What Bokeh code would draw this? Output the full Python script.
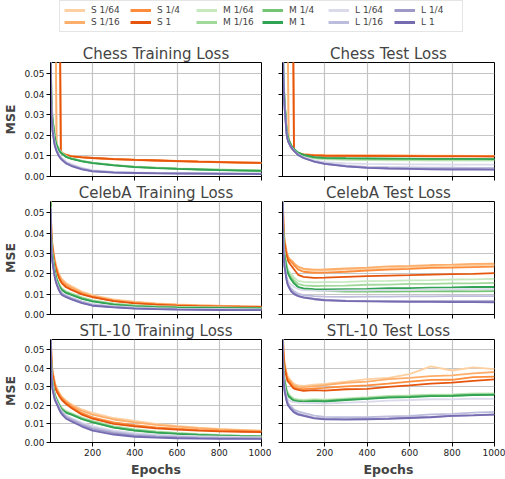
from bokeh.plotting import figure
from bokeh.layouts import column, row
from bokeh.models import Range1d, FixedTicker, CustomJSTickFormatter, Legend, LegendItem
from bokeh.embed import file_html
from bokeh.resources import INLINE

# ---------------- data ----------------
EPOCHS = [1, 5, 10, 20, 25, 30, 40, 45, 50, 55, 75, 100, 150, 200, 300, 400, 500, 600, 700, 800, 900, 1000]

SERIES = ["S 1/64", "S 1/16", "S 1/4", "S 1",
          "M 1/64", "M 1/16", "M 1/4", "M 1",
          "L 1/64", "L 1/16", "L 1/4", "L 1"]

COLORS = ["#fdd0a2", "#fdae6b", "#fd8d3c", "#e6550d",
          "#c7e9c0", "#a1d99b", "#74c476", "#31a354",
          "#dadaeb", "#bcbddc", "#9e9ac8", "#756bb1"]

Y_TICKS = [0.0, 0.01, 0.02, 0.03, 0.04, 0.05]
Y_TICK_LABELS = ["0.00", "0.01", "0.02", "0.03", "0.04", "0.05"]
X_TICKS = [200, 400, 600, 800, 1000]
X_TICK_LABELS = ["200", "400", "600", "800", "1000"]

CHESS_TRAIN = {
    "S 1/64": [0.09, 0.09, 0.09, 0.09, 0.085, 0.0145, 0.0138, 0.0133, 0.0125, 0.0118, 0.0106, 0.0099, 0.0094, 0.0090, 0.0085, 0.0081, 0.0078, 0.0075, 0.0072, 0.0070, 0.0068, 0.0066],
    "S 1/16": [0.09, 0.09, 0.09, 0.09, 0.08, 0.0140, 0.0135, 0.0130, 0.0123, 0.0117, 0.0105, 0.0098, 0.0093, 0.0089, 0.0084, 0.0080, 0.0077, 0.0074, 0.0071, 0.0069, 0.0067, 0.0065],
    "S 1/4": [0.09, 0.09, 0.09, 0.09, 0.09, 0.09, 0.09, 0.085, 0.0118, 0.0113, 0.0105, 0.0099, 0.0094, 0.0091, 0.0086, 0.0082, 0.0079, 0.0076, 0.0073, 0.0071, 0.0069, 0.0067],
    "S 1": [0.09, 0.09, 0.09, 0.09, 0.09, 0.09, 0.09, 0.08, 0.0115, 0.0111, 0.0104, 0.0098, 0.0093, 0.0090, 0.0085, 0.0081, 0.0078, 0.0075, 0.0072, 0.0070, 0.0068, 0.0066],
    "M 1/64": [0.075, 0.042, 0.030, 0.021, 0.018, 0.0162, 0.0136, 0.0127, 0.0121, 0.0116, 0.0099, 0.0089, 0.0077, 0.0068, 0.0057, 0.0049, 0.0044, 0.0040, 0.0037, 0.0034, 0.0032, 0.0030],
    "M 1/16": [0.072, 0.040, 0.029, 0.0205, 0.0175, 0.0158, 0.0133, 0.0124, 0.0118, 0.0113, 0.0097, 0.0087, 0.0075, 0.0066, 0.0055, 0.0047, 0.0042, 0.0038, 0.0035, 0.0033, 0.0031, 0.0029],
    "M 1/4": [0.070, 0.039, 0.028, 0.020, 0.017, 0.0155, 0.0130, 0.0122, 0.0117, 0.0112, 0.0096, 0.0087, 0.0075, 0.0066, 0.0055, 0.0047, 0.0042, 0.0038, 0.0035, 0.0032, 0.0030, 0.0028],
    "M 1": [0.070, 0.038, 0.028, 0.020, 0.017, 0.0153, 0.0129, 0.0121, 0.0116, 0.0111, 0.0095, 0.0086, 0.0074, 0.0065, 0.0054, 0.0046, 0.0041, 0.0037, 0.0034, 0.0031, 0.0029, 0.0027],
    "L 1/64": [0.068, 0.036, 0.025, 0.017, 0.015, 0.0135, 0.0110, 0.0102, 0.0095, 0.0090, 0.0072, 0.0060, 0.0042, 0.0031, 0.0023, 0.0020, 0.0018, 0.0017, 0.0016, 0.0016, 0.0015, 0.0015],
    "L 1/16": [0.066, 0.034, 0.024, 0.0165, 0.0145, 0.013, 0.0106, 0.0098, 0.0091, 0.0086, 0.0068, 0.0056, 0.0039, 0.0028, 0.0021, 0.0018, 0.0017, 0.0016, 0.0015, 0.0015, 0.0014, 0.0014],
    "L 1/4": [0.065, 0.033, 0.023, 0.016, 0.014, 0.0125, 0.0102, 0.0095, 0.0088, 0.0083, 0.0065, 0.0053, 0.0036, 0.0026, 0.0020, 0.0017, 0.0016, 0.0015, 0.0014, 0.0014, 0.0013, 0.0013],
    "L 1": [0.064, 0.032, 0.0225, 0.0155, 0.0137, 0.0122, 0.0100, 0.0093, 0.0086, 0.0081, 0.0063, 0.0051, 0.0035, 0.0025, 0.0019, 0.0017, 0.0015, 0.0014, 0.0014, 0.0013, 0.0013, 0.0012],
}

CHESS_TEST = {
    "S 1/64": [0.09, 0.09, 0.09, 0.09, 0.085, 0.018, 0.0145, 0.0138, 0.0132, 0.0126, 0.0115, 0.0109, 0.0105, 0.0104, 0.0103, 0.0102, 0.0102, 0.0101, 0.0101, 0.0101, 0.0100, 0.0100],
    "S 1/16": [0.09, 0.09, 0.09, 0.09, 0.08, 0.0175, 0.0142, 0.0135, 0.0130, 0.0124, 0.0113, 0.0108, 0.0104, 0.0103, 0.0102, 0.0102, 0.0101, 0.0101, 0.0100, 0.0100, 0.0100, 0.0099],
    "S 1/4": [0.09, 0.09, 0.09, 0.09, 0.09, 0.09, 0.09, 0.09, 0.09, 0.0128, 0.0114, 0.0108, 0.0104, 0.0103, 0.0102, 0.0101, 0.0101, 0.0100, 0.0100, 0.0100, 0.0099, 0.0099],
    "S 1": [0.09, 0.09, 0.09, 0.09, 0.09, 0.09, 0.09, 0.09, 0.09, 0.0125, 0.0112, 0.0106, 0.0102, 0.0101, 0.0100, 0.0100, 0.0099, 0.0099, 0.0098, 0.0098, 0.0098, 0.0097],
    "M 1/64": [0.080, 0.050, 0.038, 0.023, 0.020, 0.018, 0.0155, 0.0145, 0.0138, 0.0132, 0.0113, 0.0100, 0.0088, 0.0084, 0.0081, 0.0080, 0.0079, 0.0079, 0.0078, 0.0078, 0.0078, 0.0078],
    "M 1/16": [0.080, 0.050, 0.038, 0.023, 0.020, 0.018, 0.0155, 0.0145, 0.0138, 0.0132, 0.0114, 0.0102, 0.0090, 0.0087, 0.0084, 0.0083, 0.0083, 0.0082, 0.0082, 0.0082, 0.0082, 0.0082],
    "M 1/4": [0.080, 0.050, 0.038, 0.023, 0.020, 0.018, 0.0155, 0.0146, 0.0139, 0.0133, 0.0115, 0.0104, 0.0093, 0.0090, 0.0088, 0.0087, 0.0087, 0.0086, 0.0086, 0.0086, 0.0085, 0.0085],
    "M 1": [0.080, 0.050, 0.038, 0.023, 0.020, 0.018, 0.0156, 0.0147, 0.0140, 0.0134, 0.0116, 0.0105, 0.0094, 0.0091, 0.0089, 0.0088, 0.0087, 0.0087, 0.0086, 0.0086, 0.0086, 0.0085],
    "L 1/64": [0.080, 0.048, 0.035, 0.021, 0.018, 0.0165, 0.0145, 0.0140, 0.0133, 0.0127, 0.0108, 0.0094, 0.0078, 0.0070, 0.0064, 0.0061, 0.0060, 0.0059, 0.0059, 0.0058, 0.0058, 0.0058],
    "L 1/16": [0.080, 0.048, 0.035, 0.021, 0.018, 0.0165, 0.0145, 0.0139, 0.0132, 0.0126, 0.0106, 0.0092, 0.0075, 0.0064, 0.0053, 0.0047, 0.0045, 0.0044, 0.0043, 0.0043, 0.0042, 0.0042],
    "L 1/4": [0.080, 0.048, 0.035, 0.021, 0.018, 0.0165, 0.0144, 0.0138, 0.0131, 0.0125, 0.0105, 0.0091, 0.0073, 0.0062, 0.0050, 0.0043, 0.0040, 0.0038, 0.0037, 0.0036, 0.0036, 0.0035],
    "L 1": [0.080, 0.048, 0.035, 0.021, 0.018, 0.0165, 0.0144, 0.0138, 0.0131, 0.0125, 0.0104, 0.0090, 0.0072, 0.0061, 0.0049, 0.0042, 0.0039, 0.0037, 0.0035, 0.0034, 0.0034, 0.0033],
}

CELEBA_TRAIN = {
    "S 1/64": [0.060, 0.042, 0.035, 0.028, 0.0255, 0.0235, 0.0205, 0.0193, 0.0183, 0.0175, 0.0155, 0.0140, 0.0113, 0.0095, 0.0074, 0.0063, 0.0055, 0.0050, 0.0046, 0.0043, 0.0040, 0.0038],
    "S 1/16": [0.059, 0.041, 0.034, 0.0272, 0.0248, 0.0228, 0.0198, 0.0187, 0.0177, 0.0169, 0.0149, 0.0134, 0.0108, 0.0091, 0.0071, 0.0061, 0.0053, 0.0048, 0.0045, 0.0042, 0.0040, 0.0038],
    "S 1/4": [0.058, 0.040, 0.033, 0.026, 0.0238, 0.0218, 0.0188, 0.0177, 0.0167, 0.0159, 0.0140, 0.0125, 0.0101, 0.0086, 0.0067, 0.0056, 0.0049, 0.0045, 0.0042, 0.0040, 0.0038, 0.0037],
    "S 1": [0.058, 0.040, 0.033, 0.0255, 0.0232, 0.0212, 0.0182, 0.0171, 0.0161, 0.0153, 0.0134, 0.0121, 0.0099, 0.0085, 0.0066, 0.0055, 0.0048, 0.0044, 0.0041, 0.0039, 0.0038, 0.0037],
    "M 1/64": [0.056, 0.036, 0.030, 0.023, 0.0202, 0.0181, 0.0154, 0.0144, 0.0136, 0.0129, 0.0114, 0.0104, 0.0085, 0.0071, 0.0054, 0.0046, 0.0041, 0.0038, 0.0036, 0.0035, 0.0034, 0.0033],
    "M 1/16": [0.056, 0.036, 0.030, 0.0225, 0.0198, 0.0177, 0.0150, 0.0140, 0.0132, 0.0125, 0.0111, 0.0101, 0.0082, 0.0068, 0.0052, 0.0044, 0.0039, 0.0036, 0.0035, 0.0034, 0.0033, 0.0032],
    "M 1/4": [0.055, 0.035, 0.029, 0.0222, 0.0195, 0.0174, 0.0147, 0.0137, 0.0129, 0.0122, 0.0108, 0.0098, 0.0079, 0.0066, 0.0050, 0.0042, 0.0037, 0.0035, 0.0034, 0.0033, 0.0032, 0.0031],
    "M 1": [0.055, 0.035, 0.029, 0.022, 0.0193, 0.0172, 0.0145, 0.0135, 0.0127, 0.0120, 0.0106, 0.0096, 0.0077, 0.0064, 0.0048, 0.0040, 0.0036, 0.0034, 0.0033, 0.0032, 0.0031, 0.0030],
    "L 1/64": [0.053, 0.032, 0.027, 0.020, 0.0177, 0.0159, 0.0132, 0.0122, 0.0114, 0.0107, 0.0095, 0.0084, 0.0065, 0.0052, 0.0041, 0.0035, 0.0031, 0.0029, 0.0028, 0.0027, 0.0026, 0.0025],
    "L 1/16": [0.053, 0.032, 0.027, 0.0198, 0.0174, 0.0156, 0.0129, 0.0119, 0.0111, 0.0104, 0.0092, 0.0081, 0.0062, 0.0049, 0.0039, 0.0033, 0.0029, 0.0027, 0.0026, 0.0025, 0.0024, 0.0024],
    "L 1/4": [0.052, 0.031, 0.026, 0.0193, 0.0169, 0.0151, 0.0124, 0.0114, 0.0106, 0.0099, 0.0088, 0.0077, 0.0058, 0.0045, 0.0036, 0.0030, 0.0027, 0.0025, 0.0024, 0.0023, 0.0022, 0.0022],
    "L 1": [0.052, 0.031, 0.026, 0.019, 0.0166, 0.0148, 0.0121, 0.0111, 0.0103, 0.0096, 0.0085, 0.0074, 0.0056, 0.0043, 0.0035, 0.0029, 0.0026, 0.0024, 0.0023, 0.0022, 0.0021, 0.0021],
}

CELEBA_TEST = {
    "S 1/64": [0.070, 0.046, 0.037, 0.031, 0.029, 0.0278, 0.0265, 0.0260, 0.0255, 0.0248, 0.0230, 0.0220, 0.0215, 0.0217, 0.0220, 0.0226, 0.0228, 0.0232, 0.0235, 0.0238, 0.0242, 0.0245],
    "S 1/16": [0.070, 0.046, 0.037, 0.031, 0.029, 0.0280, 0.0268, 0.0264, 0.0260, 0.0252, 0.0235, 0.0225, 0.0220, 0.0221, 0.0226, 0.0230, 0.0236, 0.0239, 0.0243, 0.0245, 0.0249, 0.0250],
    "S 1/4": [0.068, 0.045, 0.036, 0.030, 0.0285, 0.0272, 0.0260, 0.0255, 0.0250, 0.0242, 0.0220, 0.0210, 0.0205, 0.0206, 0.0210, 0.0216, 0.0220, 0.0224, 0.0229, 0.0230, 0.0233, 0.0235],
    "S 1": [0.066, 0.044, 0.035, 0.029, 0.027, 0.0258, 0.0243, 0.0236, 0.0230, 0.0222, 0.0195, 0.0185, 0.0180, 0.0181, 0.0185, 0.0188, 0.0191, 0.0193, 0.0196, 0.0198, 0.0200, 0.0203],
    "M 1/64": [0.062, 0.040, 0.031, 0.025, 0.0228, 0.0215, 0.0200, 0.0195, 0.0190, 0.0182, 0.0165, 0.0160, 0.0158, 0.0159, 0.0160, 0.0164, 0.0165, 0.0168, 0.0169, 0.0172, 0.0173, 0.0175],
    "M 1/16": [0.062, 0.039, 0.030, 0.024, 0.0218, 0.0205, 0.0187, 0.0181, 0.0175, 0.0168, 0.0150, 0.0143, 0.0140, 0.0141, 0.0142, 0.0146, 0.0147, 0.0150, 0.0150, 0.0153, 0.0153, 0.0155],
    "M 1/4": [0.060, 0.038, 0.029, 0.023, 0.021, 0.0197, 0.0178, 0.0171, 0.0165, 0.0157, 0.0135, 0.0125, 0.0120, 0.0116, 0.0113, 0.0114, 0.0112, 0.0114, 0.0114, 0.0115, 0.0114, 0.0115],
    "M 1": [0.060, 0.038, 0.029, 0.023, 0.0208, 0.0195, 0.0174, 0.0167, 0.0160, 0.0153, 0.0135, 0.0128, 0.0125, 0.0123, 0.0125, 0.0126, 0.0129, 0.0130, 0.0132, 0.0133, 0.0135, 0.0135],
    "L 1/64": [0.058, 0.035, 0.026, 0.019, 0.017, 0.0160, 0.0148, 0.0144, 0.0140, 0.0135, 0.0125, 0.0120, 0.0117, 0.0116, 0.0118, 0.0118, 0.0121, 0.0121, 0.0123, 0.0123, 0.0125, 0.0125],
    "L 1/16": [0.056, 0.033, 0.025, 0.018, 0.0158, 0.0145, 0.0130, 0.0125, 0.0120, 0.0115, 0.0102, 0.0095, 0.0090, 0.0088, 0.0087, 0.0088, 0.0088, 0.0089, 0.0089, 0.0090, 0.0090, 0.0090],
    "L 1/4": [0.055, 0.032, 0.024, 0.0172, 0.015, 0.0138, 0.0120, 0.0115, 0.0110, 0.0105, 0.0092, 0.0085, 0.0078, 0.0072, 0.0068, 0.0067, 0.0065, 0.0066, 0.0065, 0.0066, 0.0065, 0.0065],
    "L 1": [0.055, 0.032, 0.024, 0.0170, 0.0148, 0.0135, 0.0116, 0.0110, 0.0105, 0.0100, 0.0090, 0.0083, 0.0075, 0.0070, 0.0066, 0.0064, 0.0063, 0.0062, 0.0062, 0.0061, 0.0061, 0.0060],
}

STL_TRAIN = {
    "S 1/64": [0.067, 0.047, 0.039, 0.033, 0.031, 0.0295, 0.0274, 0.0264, 0.0255, 0.0247, 0.0226, 0.0206, 0.0178, 0.0160, 0.0132, 0.0116, 0.0100, 0.0089, 0.0080, 0.0073, 0.0068, 0.0064],
    "S 1/16": [0.067, 0.047, 0.039, 0.033, 0.031, 0.0292, 0.0270, 0.0260, 0.0251, 0.0243, 0.0221, 0.0201, 0.0170, 0.0150, 0.0124, 0.0108, 0.0095, 0.0085, 0.0077, 0.0071, 0.0067, 0.0063],
    "S 1/4": [0.066, 0.046, 0.038, 0.032, 0.030, 0.0283, 0.0262, 0.0252, 0.0244, 0.0236, 0.0214, 0.0193, 0.0158, 0.0136, 0.0108, 0.0094, 0.0082, 0.0074, 0.0068, 0.0064, 0.0061, 0.0059],
    "S 1": [0.066, 0.045, 0.037, 0.031, 0.029, 0.0275, 0.0255, 0.0245, 0.0237, 0.0229, 0.0207, 0.0186, 0.0150, 0.0128, 0.0100, 0.0087, 0.0076, 0.0069, 0.0064, 0.0060, 0.0058, 0.0056],
    "M 1/64": [0.063, 0.041, 0.033, 0.027, 0.0252, 0.0240, 0.0215, 0.0205, 0.0195, 0.0187, 0.0169, 0.0158, 0.0134, 0.0117, 0.0088, 0.0072, 0.0060, 0.0052, 0.0046, 0.0041, 0.0037, 0.0035],
    "M 1/16": [0.063, 0.041, 0.033, 0.0265, 0.0248, 0.0236, 0.0211, 0.0201, 0.0191, 0.0183, 0.0166, 0.0155, 0.0131, 0.0114, 0.0085, 0.0069, 0.0058, 0.0050, 0.0044, 0.0040, 0.0036, 0.0034],
    "M 1/4": [0.062, 0.040, 0.032, 0.026, 0.0245, 0.0232, 0.0207, 0.0197, 0.0187, 0.0179, 0.0162, 0.0152, 0.0128, 0.0111, 0.0082, 0.0066, 0.0055, 0.0048, 0.0042, 0.0038, 0.0035, 0.0033],
    "M 1": [0.062, 0.040, 0.032, 0.026, 0.0243, 0.0230, 0.0205, 0.0195, 0.0185, 0.0177, 0.0160, 0.0150, 0.0126, 0.0109, 0.0080, 0.0064, 0.0053, 0.0046, 0.0041, 0.0037, 0.0034, 0.0032],
    "L 1/64": [0.060, 0.038, 0.031, 0.025, 0.0235, 0.0222, 0.0198, 0.0187, 0.0177, 0.0169, 0.0147, 0.0132, 0.0106, 0.0088, 0.0064, 0.0050, 0.0042, 0.0037, 0.0034, 0.0032, 0.0030, 0.0029],
    "L 1/16": [0.059, 0.037, 0.030, 0.0245, 0.023, 0.0218, 0.0194, 0.0182, 0.0172, 0.0164, 0.0141, 0.0126, 0.0100, 0.0080, 0.0057, 0.0044, 0.0036, 0.0031, 0.0028, 0.0026, 0.0025, 0.0024],
    "L 1/4": [0.058, 0.036, 0.029, 0.024, 0.0225, 0.0213, 0.0188, 0.0176, 0.0166, 0.0158, 0.0134, 0.0119, 0.0093, 0.0072, 0.0050, 0.0037, 0.0031, 0.0027, 0.0025, 0.0023, 0.0022, 0.0021],
    "L 1": [0.058, 0.036, 0.029, 0.0235, 0.022, 0.0208, 0.0182, 0.0170, 0.0160, 0.0152, 0.0128, 0.0113, 0.0086, 0.0064, 0.0043, 0.0031, 0.0026, 0.0023, 0.0021, 0.0020, 0.0019, 0.0019],
}

STL_TEST = {
    "S 1/64": [0.070, 0.050, 0.044, 0.038, 0.036, 0.0350, 0.0335, 0.0328, 0.0322, 0.0316, 0.0308, 0.0305, 0.0312, 0.0316, 0.0328, 0.0342, 0.0348, 0.0368, 0.0410, 0.0388, 0.0405, 0.0395],
    "S 1/16": [0.070, 0.050, 0.043, 0.037, 0.035, 0.0342, 0.0328, 0.0320, 0.0314, 0.0308, 0.0300, 0.0298, 0.0304, 0.0309, 0.0322, 0.0328, 0.0342, 0.0348, 0.0358, 0.0362, 0.0372, 0.0380],
    "S 1/4": [0.069, 0.049, 0.042, 0.036, 0.034, 0.0333, 0.0318, 0.0310, 0.0303, 0.0297, 0.0290, 0.0288, 0.0292, 0.0294, 0.0302, 0.0308, 0.0317, 0.0328, 0.0337, 0.0338, 0.0352, 0.0355],
    "S 1": [0.068, 0.048, 0.041, 0.035, 0.033, 0.0325, 0.0310, 0.0302, 0.0295, 0.0290, 0.0283, 0.0278, 0.0282, 0.0279, 0.0287, 0.0289, 0.0300, 0.0308, 0.0317, 0.0323, 0.0332, 0.0340],
    "M 1/64": [0.062, 0.041, 0.035, 0.029, 0.0272, 0.0262, 0.0250, 0.0245, 0.0241, 0.0237, 0.0232, 0.0230, 0.0233, 0.0231, 0.0238, 0.0244, 0.0251, 0.0254, 0.0258, 0.0259, 0.0264, 0.0265],
    "M 1/16": [0.062, 0.040, 0.034, 0.028, 0.0265, 0.0255, 0.0245, 0.0240, 0.0236, 0.0232, 0.0228, 0.0226, 0.0228, 0.0227, 0.0234, 0.0241, 0.0248, 0.0251, 0.0255, 0.0256, 0.0261, 0.0262],
    "M 1/4": [0.061, 0.040, 0.034, 0.028, 0.0262, 0.0252, 0.0242, 0.0236, 0.0232, 0.0228, 0.0224, 0.0222, 0.0225, 0.0224, 0.0231, 0.0237, 0.0244, 0.0247, 0.0251, 0.0252, 0.0257, 0.0258],
    "M 1": [0.061, 0.039, 0.033, 0.0275, 0.0258, 0.0248, 0.0238, 0.0233, 0.0229, 0.0226, 0.0222, 0.0219, 0.0223, 0.0221, 0.0229, 0.0235, 0.0242, 0.0245, 0.0250, 0.0251, 0.0256, 0.0257],
    "L 1/64": [0.060, 0.038, 0.031, 0.025, 0.0235, 0.0228, 0.0222, 0.0220, 0.0218, 0.0217, 0.0215, 0.0214, 0.0212, 0.0210, 0.0215, 0.0219, 0.0226, 0.0229, 0.0233, 0.0232, 0.0236, 0.0235],
    "L 1/16": [0.058, 0.036, 0.030, 0.024, 0.022, 0.0210, 0.0196, 0.0190, 0.0184, 0.0178, 0.0168, 0.0160, 0.0145, 0.0138, 0.0136, 0.0137, 0.0141, 0.0144, 0.0152, 0.0154, 0.0161, 0.0165],
    "L 1/4": [0.057, 0.035, 0.029, 0.023, 0.021, 0.0200, 0.0186, 0.0180, 0.0174, 0.0168, 0.0155, 0.0148, 0.0133, 0.0128, 0.0126, 0.0129, 0.0130, 0.0134, 0.0138, 0.0144, 0.0147, 0.0152],
    "L 1": [0.057, 0.035, 0.028, 0.0225, 0.0205, 0.0195, 0.0180, 0.0174, 0.0168, 0.0162, 0.0150, 0.0143, 0.0130, 0.0125, 0.0123, 0.0125, 0.0127, 0.0132, 0.0136, 0.0143, 0.0146, 0.0150],
}

PANELS = [
    ("Chess Training Loss", CHESS_TRAIN), ("Chess Test Loss", CHESS_TEST),
    ("CelebA Training Loss", CELEBA_TRAIN), ("CelebA Test Loss", CELEBA_TEST),
    ("STL-10 Training Loss", STL_TRAIN), ("STL-10 Test Loss", STL_TEST),
]

FONT = "DejaVu Sans"
BLANK = CustomJSTickFormatter(code="return ''")


def make_panel(title, data, is_left, is_bottom, height, top, bottom):
    p = figure(width=271 if is_left else 234, height=height,
               x_range=Range1d(1, 1000), y_range=Range1d(0, 0.0555),
               toolbar_location=None, output_backend="svg",
               min_border_left=48 if is_left else 11,
               min_border_right=10 if is_left else 11,
               min_border_top=top, min_border_bottom=bottom,
               outline_line_color="black", outline_line_width=1,
               background_fill_color="white", border_fill_color="white")
    p.title.text = title
    p.title.text_font = FONT
    p.title.text_font_size = "15px"
    p.title.text_font_style = "normal"
    p.title.align = "center"
    p.title.standoff = 0

    for s, c in zip(SERIES, COLORS):
        p.line(EPOCHS, data[s], line_color=c, line_width=1.8)

    p.xaxis.ticker = FixedTicker(ticks=X_TICKS)
    p.yaxis.ticker = FixedTicker(ticks=Y_TICKS)
    for ax in (p.xaxis[0], p.yaxis[0]):
        ax.axis_line_color = "black"
        ax.major_tick_line_color = "black"
        ax.major_tick_in = 0
        ax.major_tick_out = 4
        ax.minor_tick_line_color = None
        ax.major_label_text_font = FONT
        ax.major_label_text_font_size = "9px"
        ax.major_label_text_color = "#222222"
        ax.axis_label_text_font = FONT
        ax.axis_label_text_font_style = "bold"
        ax.axis_label_text_font_size = "12.5px"
        ax.major_label_standoff = 2
        ax.axis_label_standoff = 3

    if is_left:
        p.yaxis.major_label_overrides = dict(zip(Y_TICKS, Y_TICK_LABELS))
        p.yaxis.axis_label = "MSE"
    else:
        p.yaxis.formatter = BLANK
        p.yaxis.major_label_standoff = 0
    if is_bottom:
        p.xaxis.major_label_overrides = dict(zip(X_TICKS, X_TICK_LABELS))
        p.xaxis.axis_label = "Epochs"
    else:
        p.xaxis.formatter = BLANK
        p.xaxis.major_label_standoff = 0

    p.grid.grid_line_color = "#c4c4c4"
    p.grid.grid_line_width = 1.2
    p.xgrid.ticker = FixedTicker(ticks=X_TICKS)
    p.ygrid.ticker = FixedTicker(ticks=Y_TICKS)
    return p


# legend strip
lp = figure(width=505, height=42, toolbar_location=None, output_backend="svg",
            x_range=Range1d(0, 1), y_range=Range1d(0, 1),
            min_border=0, outline_line_color=None)
lp.axis.visible = False
lp.grid.visible = False
items = []
for s, c in zip(SERIES, COLORS):
    r = lp.line(x=[-2, -1], y=[-2, -2], line_color=c, line_width=3)
    items.append(LegendItem(label=s, renderers=[r]))
legend = Legend(items=items, orientation="vertical", ncols=6,
                location=(59, 10), label_text_font=FONT, label_text_font_size="9px",
                glyph_width=21, glyph_height=10, label_height=10, label_width=37,
                label_standoff=6, spacing=2, padding=4, margin=0,
                border_line_color="#cccccc", border_line_width=1,
                background_fill_color="white")
lp.add_layout(legend, "center")

rows = []
specs = [(139, 20, 5), (138, 19, 5), (160, 18, 28)]
for i, (h, t, b) in enumerate(specs):
    left = make_panel(PANELS[2 * i][0], PANELS[2 * i][1], True, i == 2, h, t, b)
    right = make_panel(PANELS[2 * i + 1][0], PANELS[2 * i + 1][1], False, i == 2, h, t, b)
    rows.append(row(left, right))

layout = column(lp, *rows)
open("out.html", "w").write(file_html(layout, INLINE))
